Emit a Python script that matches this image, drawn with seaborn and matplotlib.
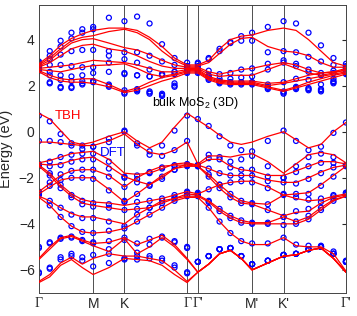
import numpy as np
import pandas as pd
import matplotlib
matplotlib.use("Agg")
import matplotlib.pyplot as plt
import seaborn as sns

# k-path sample positions: Gamma-M-K-Gamma | Gamma'-M'-K'-Gamma'
kpath = [0, 0.2, 0.4, 0.6, 0.8, 1.0, 1.29, 1.577, 1.81, 2.04, 2.27, 2.5, 2.732,
         2.93, 3.13, 3.33, 3.53, 3.73, 3.93, 4.22, 4.51, 4.74, 4.97, 5.2, 5.43, 5.66]
kticks = [0, 1.0, 1.577, 2.732, 2.93, 3.93, 4.51, 5.66]
klabels = ["Γ", "M", "K", "Γ", "Γ'", "M'", "K'", "Γ'"]

# tight-binding (TBH) bands, eV
tbh_c1 = [2.95, 3.3, 3.75, 4.05, 4.25, 4.4, 4.5, 4.5, 4.4, 4.1, 3.7, 3.2, 2.9, 2.9, 3.1, 3.6, 4.0, 4.15, 4.2, 4.4, 4.5, 4.4, 4.0, 3.5, 3.0, 2.85]
tbh_c2 = [2.9, 3.2, 3.6, 3.95, 4.1, 4.17, 4.35, 4.45, 4.3, 4.0, 3.5, 3.1, 2.85, 2.85, 3.0, 3.4, 3.8, 4.05, 4.1, 3.7, 3.5, 3.45, 3.3, 3.0, 2.8, 2.8]
tbh_c3 = [2.85, 3.1, 3.5, 3.85, 4.0, 4.04, 3.85, 3.65, 3.55, 3.35, 3.1, 2.9, 2.8, 2.8, 2.6, 2.5, 2.6, 2.7, 2.75, 2.9, 3.0, 2.9, 2.7, 2.55, 2.6, 2.75]
tbh_c4 = [2.8, 3.0, 3.3, 3.6, 3.75, 3.8, 3.6, 3.5, 3.3, 3.05, 2.85, 2.75, 2.75, 2.75, 2.5, 2.4, 2.45, 2.45, 2.45, 2.7, 2.95, 2.75, 2.55, 2.45, 2.55, 2.7]
tbh_c5 = [2.75, 2.8, 2.85, 2.9, 3.0, 3.1, 3.05, 3.0, 2.9, 2.75, 2.6, 2.6, 2.7, 2.7, 2.4, 2.25, 2.2, 2.2, 2.2, 2.1, 2.15, 2.3, 2.45, 2.55, 2.6, 2.65]
tbh_c6 = [2.7, 2.65, 2.6, 2.7, 2.8, 2.87, 2.9, 2.95, 2.75, 2.5, 2.4, 2.5, 2.65, 2.65, 2.35, 2.2, 2.15, 2.15, 2.15, 2.0, 2.1, 2.2, 2.3, 2.4, 2.5, 2.6]
tbh_c7 = [2.65, 2.45, 2.3, 2.25, 2.3, 2.3, 2.05, 1.75, 1.9, 2.15, 2.35, 2.45, 2.6, 2.6, 2.3, 2.15, 2.1, 2.1, 2.1, 1.95, 1.8, 1.95, 2.15, 2.3, 2.45, 2.55]
tbh_c8 = [2.6, 2.35, 2.2, 2.15, 2.15, 2.1, 1.95, 1.7, 1.8, 2.0, 2.2, 2.35, 2.55, 2.55, 2.25, 2.1, 2.05, 2.05, 2.05, 1.9, 1.75, 1.9, 2.05, 2.2, 2.35, 2.5]

tbh_v1 = [0.8, 0.55, 0.05, -0.45, -0.55, -0.45, -0.2, 0.0, -0.4, -0.7, -0.45, 0.2, 0.8, 0.5, 0.2, -0.15, -0.45, -0.55, -0.45, -0.2, 0.0, -0.35, -0.7, -0.55, 0.0, 0.4]
tbh_v2 = [-0.45, -0.45, -0.5, -0.55, -0.6, -0.6, -0.4, -0.1, -0.55, -0.9, -1.0, -0.8, -0.45, -1.4, -1.05, -1.05, -1.1, -1.0, -0.95, -1.3, -1.8, -1.4, -1.0, -0.9, -1.0, -1.35]
tbh_v3 = [-1.35, -1.25, -1.1, -0.95, -0.9, -0.85, -1.2, -1.8, -1.85, -1.8, -1.6, -1.4, -1.35, -1.45, -1.2, -1.2, -1.5, -1.65, -1.7, -1.9, -1.9, -1.7, -1.5, -1.3, -1.3, -1.4]
tbh_v4 = [-1.4, -1.45, -1.4, -1.25, -1.15, -1.1, -1.5, -1.95, -2.15, -2.3, -2.0, -1.6, -1.4, -1.45, -1.6, -1.8, -1.9, -1.9, -1.9, -2.1, -2.2, -2.2, -2.0, -1.75, -1.55, -1.45]
tbh_v5 = [-2.6, -2.25, -1.9, -1.7, -1.65, -1.65, -1.9, -2.4, -2.0, -1.7, -1.5, -1.45, -1.45, -1.5, -1.85, -2.3, -2.7, -3.0, -3.1, -3.15, -2.75, -2.7, -2.65, -2.3, -1.9, -1.5]
tbh_v6 = [-2.7, -2.4, -2.1, -2.0, -2.0, -2.0, -2.5, -3.05, -2.7, -2.3, -1.9, -1.6, -1.5, -1.5, -1.95, -2.45, -2.85, -3.1, -3.15, -3.4, -3.65, -3.5, -3.45, -3.1, -2.85, -2.75]
tbh_v7 = [-1.45, -1.8, -2.3, -2.7, -2.95, -3.05, -3.1, -3.2, -3.1, -3.0, -2.9, -2.75, -2.6, -2.7, -2.5, -2.3, -2.2, -2.15, -2.15, -2.4, -2.75, -2.9, -3.0, -2.95, -2.8, -2.7]
tbh_v8 = [-1.5, -1.9, -2.4, -2.8, -3.1, -3.2, -3.3, -3.4, -3.35, -3.3, -3.1, -2.9, -2.7, -2.75, -3.0, -3.35, -3.65, -3.85, -3.95, -3.95, -3.7, -3.9, -3.7, -3.3, -2.95, -2.8]
tbh_v9 = [-2.8, -3.0, -3.3, -3.55, -3.7, -3.7, -3.85, -4.0, -3.6, -3.3, -3.0, -2.9, -2.8, -2.8, -3.05, -3.45, -3.75, -3.95, -4.0, -4.0, -4.0, -4.0, -3.8, -3.4, -3.0, -2.8]
tbh_v10 = [-2.85, -3.2, -3.7, -4.1, -4.35, -4.4, -4.35, -4.2, -3.9, -3.6, -3.3, -3.0, -2.85, -2.85, -3.3, -3.9, -4.4, -4.75, -4.9, -4.9, -4.6, -4.95, -5.0, -5.0, -5.3, -6.05]
tbh_v11 = [-5.5, -5.0, -4.6, -4.5, -4.7, -4.85, -4.8, -4.6, -4.9, -4.7, -4.5, -4.9, -5.5, -6.1, -5.75, -5.3, -5.15, -5.5, -6.0, -5.7, -5.4, -5.35, -5.15, -5.05, -5.5, -6.1]
tbh_v12 = [-5.55, -5.1, -4.65, -4.55, -4.75, -4.95, -5.2, -4.65, -5.3, -5.0, -4.6, -5.0, -5.55, -6.1, -5.75, -5.3, -5.15, -5.5, -6.0, -5.7, -5.4, -5.35, -5.15, -5.05, -5.5, -6.1]
tbh_v13 = [-6.5, -6.2, -5.7, -5.45, -5.75, -5.5, -5.3, -5.4, -5.4, -5.5, -5.6, -6.0, -6.5, -6.1, -5.75, -5.3, -5.15, -5.5, -6.0, -5.7, -5.4, -5.35, -5.15, -5.05, -5.5, -6.1]
tbh_v14 = [-6.55, -6.3, -5.8, -5.55, -5.9, -6.2, -5.9, -5.5, -5.55, -5.6, -5.8, -6.2, -6.55, -6.1, -5.75, -5.3, -5.15, -5.5, -6.0, -5.7, -5.4, -5.35, -5.15, -5.05, -5.5, -6.1]

# DFT bands, eV
dft_c1 = [3.05, 3.5, 3.95, 4.3, 4.45, 4.55, 4.95, 4.8, 5.0, 4.7, 3.8, 3.2, 3.0, 3.0, 3.15, 3.5, 3.9, 4.15, 4.3, 4.55, 4.8, 4.7, 4.3, 3.75, 3.2, 2.95]
dft_c2 = [3.0, 3.3, 3.7, 4.05, 4.3, 4.45, 3.3, 2.55, 2.45, 2.4, 2.45, 2.6, 2.85, 2.95, 3.2, 3.6, 3.85, 3.95, 3.95, 3.45, 3.5, 3.45, 3.25, 3.05, 2.9, 2.85]
dft_c3 = [2.95, 3.15, 3.35, 3.5, 3.55, 3.55, 3.5, 3.45, 3.45, 3.3, 3.05, 2.9, 2.85, 2.85, 2.65, 2.5, 2.55, 2.7, 2.75, 2.95, 3.1, 2.95, 2.7, 2.55, 2.65, 2.8]
dft_c4 = [2.85, 2.9, 2.9, 2.85, 2.8, 2.8, 3.0, 3.15, 3.0, 2.7, 2.5, 2.5, 2.75, 2.75, 2.45, 2.3, 2.3, 2.35, 2.4, 2.7, 3.0, 2.85, 2.6, 2.45, 2.55, 2.75]
dft_c5 = [2.8, 2.6, 2.45, 2.4, 2.45, 2.55, 2.6, 2.5, 2.45, 2.4, 2.5, 2.6, 2.7, 2.7, 2.4, 2.2, 2.15, 2.15, 2.15, 2.05, 2.15, 2.3, 2.25, 2.05, 2.3, 2.65]
dft_c6 = [2.75, 2.45, 2.25, 2.2, 2.2, 2.2, 2.05, 1.8, 1.85, 1.75, 1.65, 2.1, 2.65, 2.65, 2.35, 2.2, 2.15, 2.15, 2.15, 1.95, 1.75, 1.95, 1.9, 1.85, 2.2, 2.6]
dft_c7 = [2.7, 2.15, 1.95, 1.95, 2.1, 2.2, 2.0, 1.7, 1.8, 1.7, 1.6, 2.0, 2.6, 2.6, 2.3, 2.15, 2.1, 2.1, 2.1, 1.9, 1.7, 1.9, 1.85, 1.8, 2.15, 2.55]
dft_c8 = [2.65, 2.1, 1.9, 1.9, 2.05, 2.15, 1.95, 1.65, 1.75, 1.65, 1.55, 1.95, 2.55, 2.55, 2.25, 2.1, 2.05, 2.05, 2.05, 1.85, 1.65, 1.85, 1.8, 1.75, 2.1, 2.5]

dft_v1 = [0.7, 0.45, -0.1, -0.6, -0.75, -0.65, -0.3, 0.05, -0.5, -0.85, -0.6, 0.05, 0.7, 0.55, 0.25, -0.2, -0.6, -0.8, -0.85, -0.4, 0.05, -0.4, -0.8, -0.65, -0.05, 0.4]
dft_v2 = [-0.4, -0.4, -0.45, -0.5, -0.6, -0.65, -0.45, 0.0, -0.6, -1.0, -1.05, -0.8, -0.4, -1.45, -1.0, -1.1, -1.3, -1.2, -1.05, -1.5, -2.0, -1.5, -1.1, -0.95, -1.1, -1.45]
dft_v3 = [-1.4, -1.3, -1.1, -1.0, -0.95, -0.95, -1.3, -1.95, -1.9, -1.8, -1.6, -1.45, -1.4, -1.45, -1.15, -1.2, -1.55, -1.65, -1.65, -1.95, -2.0, -1.75, -1.5, -1.35, -1.35, -1.45]
dft_v4 = [-1.45, -1.5, -1.45, -1.3, -1.2, -1.2, -1.6, -2.0, -2.2, -2.35, -2.05, -1.65, -1.45, -1.45, -1.6, -1.8, -1.9, -1.9, -1.9, -2.15, -2.2, -2.25, -2.05, -1.8, -1.55, -1.45]
dft_v5 = [-2.6, -2.2, -1.85, -1.7, -1.65, -1.65, -1.95, -2.4, -2.05, -1.75, -1.55, -1.5, -1.45, -1.5, -1.85, -2.3, -2.7, -3.0, -3.1, -3.15, -2.75, -2.7, -2.7, -2.35, -1.95, -1.5]
dft_v6 = [-2.65, -2.35, -2.1, -2.0, -2.0, -2.05, -2.55, -3.0, -2.7, -2.3, -1.95, -1.65, -1.5, -1.5, -1.95, -2.45, -2.85, -3.1, -3.15, -3.4, -3.7, -3.45, -3.35, -3.05, -2.8, -2.65]
dft_v7 = [-1.45, -1.8, -2.3, -2.75, -3.0, -3.1, -3.15, -3.05, -3.05, -3.0, -2.9, -2.75, -2.6, -2.65, -2.5, -2.3, -2.2, -2.15, -2.2, -2.45, -2.7, -2.85, -2.95, -2.9, -2.75, -2.65]
dft_v8 = [-1.5, -1.9, -2.45, -2.85, -3.15, -3.25, -3.3, -3.4, -3.35, -3.3, -3.1, -2.9, -2.65, -2.7, -3.0, -3.35, -3.65, -3.85, -3.95, -3.95, -3.7, -3.9, -3.65, -3.3, -2.9, -2.7]
dft_v9 = [-2.7, -3.0, -3.3, -3.6, -3.75, -3.75, -3.9, -4.1, -3.6, -3.3, -3.0, -2.85, -2.75, -2.75, -3.05, -3.45, -3.75, -3.95, -4.0, -4.0, -4.05, -4.0, -3.8, -3.4, -3.0, -2.75]
dft_v10 = [-2.75, -3.2, -3.7, -4.1, -4.35, -4.4, -4.3, -4.2, -3.9, -3.6, -3.3, -3.0, -2.8, -2.8, -3.3, -3.9, -4.4, -4.75, -4.85, -4.85, -4.6, -4.9, -4.95, -4.95, -5.2, -5.6]
dft_v11 = [-5.0, -4.8, -4.6, -4.55, -4.7, -4.8, -4.75, -4.6, -4.85, -4.65, -4.55, -4.75, -5.0, -5.65, -5.4, -5.1, -5.05, -5.4, -5.75, -5.6, -5.35, -5.3, -5.1, -5.0, -5.3, -5.65]
dft_v12 = [-5.05, -4.85, -4.65, -4.6, -4.75, -4.85, -5.1, -4.7, -5.25, -4.9, -4.6, -4.8, -5.05, -5.65, -5.4, -5.1, -5.05, -5.4, -5.75, -5.6, -5.35, -5.3, -5.1, -5.0, -5.3, -5.65]
dft_v13 = [-6.1, -5.9, -5.45, -5.3, -5.45, -5.35, -5.3, -5.5, -5.4, -5.4, -5.5, -5.8, -6.1, -5.65, -5.4, -5.1, -5.05, -5.4, -5.75, -5.6, -5.35, -5.3, -5.1, -5.0, -5.3, -5.65]
dft_v14 = [-6.15, -5.95, -5.55, -5.4, -5.6, -5.85, -5.7, -5.55, -5.55, -5.5, -5.6, -5.9, -6.15, -5.65, -5.4, -5.1, -5.05, -5.4, -5.75, -5.6, -5.35, -5.3, -5.1, -5.0, -5.3, -5.65]

tbh_bands = [tbh_c1, tbh_c2, tbh_c3, tbh_c4, tbh_c5, tbh_c6, tbh_c7, tbh_c8,
             tbh_v1, tbh_v2, tbh_v3, tbh_v4, tbh_v5, tbh_v6, tbh_v7,
             tbh_v8, tbh_v9, tbh_v10, tbh_v11, tbh_v12, tbh_v13, tbh_v14]
dft_bands = [dft_c1, dft_c2, dft_c3, dft_c4, dft_c5, dft_c6, dft_c7, dft_c8,
             dft_v1, dft_v2, dft_v3, dft_v4, dft_v5, dft_v6, dft_v7,
             dft_v8, dft_v9, dft_v10, dft_v11, dft_v12, dft_v13, dft_v14]


def to_long(bands):
    frames = []
    for i, b in enumerate(bands):
        frames.append(pd.DataFrame({"k": kpath, "E": b, "band": i}))
    return pd.concat(frames, ignore_index=True)


tbh = to_long(tbh_bands)
dft = to_long(dft_bands)

sns.set_style("white")
plt.rcParams["font.family"] = ["Liberation Sans", "DejaVu Sans"]
plt.rcParams["mathtext.fontset"] = "custom"
plt.rcParams["mathtext.rm"] = "Liberation Sans"
plt.rcParams["mathtext.it"] = "Liberation Sans"

fig, ax = plt.subplots(figsize=(3.57, 3.16), dpi=100)
fig.subplots_adjust(left=0.109, right=0.969, bottom=0.073, top=0.984)

for k in kticks[1:-1]:
    ax.axvline(k, color="#333333", lw=0.6, zorder=1)

sns.scatterplot(data=dft, x="k", y="E", marker="o", s=13, facecolor="none",
                edgecolor="blue", linewidth=0.9, ax=ax, legend=False, zorder=2)
sns.lineplot(data=tbh, x="k", y="E", units="band", estimator=None,
             color="red", lw=0.9, ax=ax, legend=False, zorder=3)

ax.set_xlim(0, 5.66)
ax.set_ylim(-7, 5.5)
ax.set_xticks(kticks)
ax.set_xticklabels(klabels)
ax.set_yticks([-6, -4, -2, 0, 2, 4])
ax.set_xlabel("")
ax.set_ylabel("Energy (eV)", fontsize=10.5, labelpad=4)
ax.tick_params(axis="x", length=0, labelsize=10, pad=3)
ax.tick_params(axis="y", direction="in", length=3, labelsize=10, right=True, pad=3)
for lab in ax.get_xticklabels():
    if lab.get_text().startswith("Γ"):
        lab.set_fontfamily("Liberation Serif")

for sp in ax.spines.values():
    sp.set_color("#444444")
    sp.set_linewidth(0.7)

ax.text(0.53, 0.67, "TBH", color="red", fontsize=9.5, ha="center", va="center")
ax.text(1.37, -0.93, "DFT", color="blue", fontsize=9.5, ha="center", va="center")
ax.text(2.085, 1.23, "bulk MoS$_2$ (3D)", color="black", fontsize=9, ha="left", va="center")

fig.savefig("out.png", dpi=100)
